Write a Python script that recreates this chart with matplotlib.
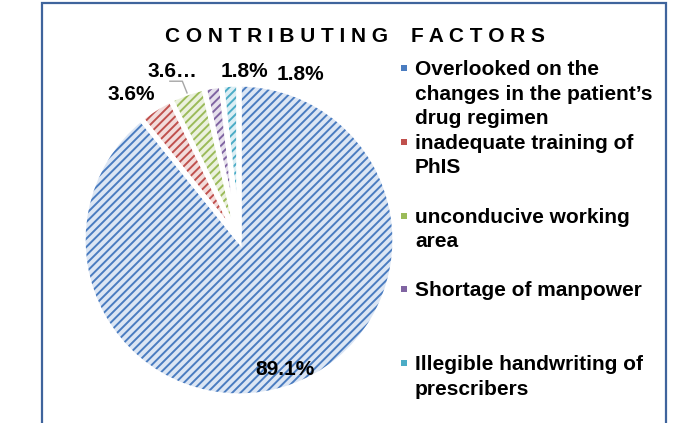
import matplotlib
matplotlib.use("Agg")
import matplotlib.pyplot as plt
from matplotlib.patches import Rectangle
import numpy as np

plt.rcParams['font.family'] = ['Liberation Sans', 'DejaVu Sans']
plt.rcParams['hatch.linewidth'] = 1.4

title = "CONTRIBUTING FACTORS"
categories = [
    "Overlooked on the\nchanges in the patient\u2019s\ndrug regimen",
    "inadequate training of\nPhIS",
    "unconducive working\narea",
    "Shortage of manpower",
    "Illegible handwriting of\nprescribers",
]
values = [89.1, 3.6, 3.6, 1.8, 1.8]
value_labels = ["89.1%", "3.6%", "3.6\u2026", "1.8%", "1.8%"]

hatch_colors = ["#4a7cc0", "#c0504d", "#9bbb59", "#8064a2", "#4bacc6"]
face_colors = ["#dce6f4", "#f2dcdb", "#ebf1de", "#e6e0ec", "#dbeef4"]

W, H = 674, 423
fig = plt.figure(figsize=(W / 100, H / 100), dpi=100)

# outer border
fig.patches.append(Rectangle((42 / W, -0.05), (666 - 42) / W, 1.05 - 3 / H,
                             transform=fig.transFigure, fill=False,
                             edgecolor="#3f649c", linewidth=1.6, zorder=0))

cx, cy, r = 239, 240, 156
ax = fig.add_axes([(cx - r) / W, (H - cy - r) / H, 2 * r / W, 2 * r / H])

wedges, _ = ax.pie(values, startangle=90, counterclock=False, radius=1,
                   colors=face_colors, wedgeprops=dict(linewidth=0))
for w, hc in zip(wedges, hatch_colors):
    w.set_edgecolor(hc)
    w.set_linewidth(0)
    w.set_hatch("////")
# soft rim
ax.pie(values, startangle=90, counterclock=False, radius=1,
       colors=["none"] * len(values),
       wedgeprops=dict(linewidth=1.2, edgecolor="#a9c0e0", fill=False))
ax.pie(values, startangle=90, counterclock=False, radius=1,
       colors=["none"] * len(values),
       wedgeprops=dict(linewidth=3.8, edgecolor="white", fill=False))
ax.set_xlim(-1, 1)
ax.set_ylim(-1, 1)
ax.set_aspect('equal')
ax.axis('off')

# label placement: (radial distance, angle shift in degrees)
label_pos = [(0.88, 0), (1.16, 4), (1.16, 2), (1.08, -11.5), (1.13, -23.5)]
for w, txt, (d, shift) in zip(wedges, value_labels, label_pos):
    ang = np.deg2rad((w.theta1 + w.theta2) / 2 + shift)
    ax.text(d * np.cos(ang), d * np.sin(ang), txt, ha='center', va='center',
            fontsize=15, fontweight='bold', clip_on=False)

# leader line for the truncated green label
wg = wedges[2]
ang = np.deg2rad((wg.theta1 + wg.theta2) / 2)
p_end = np.array([1.0 * np.cos(ang), 1.0 * np.sin(ang)])
p_mid = np.array([p_end[0] - 0.03, p_end[1] + 0.075])
p_start = np.array([p_mid[0] - 0.08, p_mid[1]])
ax.plot([p_start[0], p_mid[0], p_end[0]], [p_start[1], p_mid[1], p_end[1]],
        color="#a6a6a6", linewidth=1, clip_on=False)

# title (letter-spaced)
fig.text(355 / W, 1 - 37 / H, " ".join(list(title)).replace("   ", "    "),
         ha='center', va='center', fontsize=15, fontweight='bold')

# legend (manual)
leg_y0, leg_step = 68, 73.8
for i, (lab, hc) in enumerate(zip(categories, hatch_colors)):
    y = leg_y0 + i * leg_step
    fig.patches.append(Rectangle((401 / W, 1 - (y + 3) / H), 6 / W, 6 / H,
                                 transform=fig.transFigure, facecolor=hc,
                                 edgecolor='none'))
    fig.text(415 / W, 1 - (y - 8) / H, lab, ha='left', va='top',
             fontsize=15, fontweight='bold', linespacing=1.37)

fig.savefig("out.png", dpi=100)
